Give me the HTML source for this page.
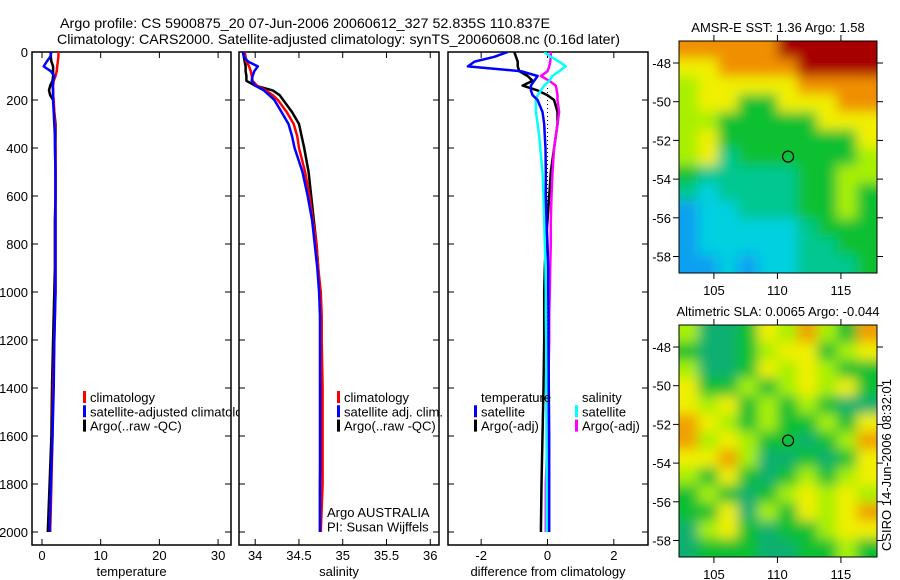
<!DOCTYPE html>
<html><head><meta charset="utf-8"><style>
html,body{margin:0;padding:0;background:#fff;}
svg{display:block;font-family:"Liberation Sans",sans-serif;}
</style></head><body>
<svg id="fig" width="900" height="580" viewBox="0 0 900 580">
<defs>
<clipPath id="c1"><rect x="32" y="52" width="207" height="493"/></clipPath>
<clipPath id="c2"><rect x="239" y="52" width="200" height="493"/></clipPath>
<clipPath id="c3"><rect x="448" y="52" width="200" height="493"/></clipPath>
<clipPath id="cm1"><rect x="679" y="41" width="198" height="232"/></clipPath>
<clipPath id="cm2"><rect x="679" y="325" width="198" height="232"/></clipPath>
<filter id="bl" filterUnits="userSpaceOnUse" x="600" y="0" width="300" height="580"><feGaussianBlur stdDeviation="6"/></filter>
</defs>
<text x="60" y="28" font-size="14" textLength="490" lengthAdjust="spacingAndGlyphs">Argo profile: CS 5900875_20 07-Jun-2006 20060612_327 52.835S 110.837E</text>
<text x="57" y="44" font-size="14" textLength="563" lengthAdjust="spacingAndGlyphs">Climatology: CARS2000. Satellite-adjusted climatology: synTS_20060608.nc (0.16d later)</text>
<g id="g1"></g>
<g id="g2"></g>
<g id="g3"></g>
<g id="m1"></g>
<g id="m2"></g>
<text transform="translate(891,465) rotate(-90)" text-anchor="middle" font-size="13">CSIRO 14-Jun-2006 08:32:01</text>
</svg>
<script>
const depths=[0,20,40,60,80,100,120,140,160,180,200,250,300,350,400,500,600,700,800,900,1000,1100,1200,1400,1600,1800,2000];
const tClim=[2.8,2.8,2.7,2.6,2.5,2.3,2.0,1.9,1.9,1.9,2.0,2.1,2.2,2.2,2.3,2.3,2.3,2.3,2.3,2.3,2.3,2.2,2.1,1.9,1.8,1.6,1.4];
const tSat=[1.6,1.4,0.8,0.3,1.5,2.1,1.9,1.8,1.9,1.9,1.9,2.0,2.1,2.2,2.2,2.3,2.3,2.3,2.3,2.3,2.3,2.2,2.1,2.0,1.8,1.5,1.3];
const tArgo=[1.5,1.5,1.6,1.9,1.9,1.9,1.8,1.4,1.2,1.4,1.9,2.1,2.3,2.3,2.3,2.3,2.3,2.2,2.2,2.2,2.1,2.0,1.9,1.7,1.6,1.3,1.0];
const sClim=[33.88,33.89,33.9,33.93,33.95,33.96,33.97,34.02,34.12,34.2,34.26,34.36,34.44,34.48,34.5,34.57,34.62,34.66,34.7,34.72,34.75,34.76,34.76,34.77,34.77,34.77,34.75];
const sSat=[33.87,33.87,33.92,34.03,33.99,33.97,33.96,34.0,34.1,34.16,34.22,34.3,34.38,34.42,34.45,34.54,34.6,34.65,34.68,34.71,34.73,34.74,34.74,34.74,34.74,34.74,34.74];
const sArgo=[33.86,33.87,33.88,33.89,33.89,33.9,33.9,34.0,34.2,34.28,34.32,34.42,34.5,34.53,34.56,34.61,34.64,34.67,34.7,34.72,34.74,34.75,34.75,34.75,34.75,34.74,34.74];
const dTSat=[-1.2,-1.6,-2.2,-2.4,-0.8,-0.3,-0.4,-0.5,-0.5,-0.45,-0.3,-0.15,-0.1,-0.08,-0.06,-0.05,-0.05,-0.03,0,0.02,0.02,0.03,0.03,0.04,0.05,0.05,0.05];
const dTArgo=[-1.0,-0.95,-0.9,-0.9,-0.85,-0.6,-0.45,-0.75,-0.3,0.0,0.2,0.3,0.3,0.25,0.2,0.1,0.05,0,-0.05,-0.08,-0.1,-0.1,-0.1,-0.12,-0.15,-0.18,-0.2];
const dSSat=[-0.1,0.1,0.35,0.55,0.35,0.15,0.05,-0.1,-0.2,-0.3,-0.35,-0.35,-0.3,-0.25,-0.22,-0.15,-0.12,-0.1,-0.08,-0.06,-0.05,-0.05,-0.04,-0.04,-0.03,-0.02,-0.02];
const dSArgo=[0.1,0.1,0.08,0.05,0,-0.2,0.05,0.25,0.28,0.3,0.3,0.35,0.3,0.25,0.2,0.15,0.12,0.1,0.1,0.08,0.07,0.05,0.05,0.02,0,-0.05,-0.05];
const depthTicks=[0,200,400,600,800,1000,1200,1400,1600,1800,2000];
const tTicks=[0,10,20,30];
const sTicks=[34,34.5,35,35.5,36];
const dTicks=[-2,0,2];
const latTicks=[-48,-50,-52,-54,-56,-58];
const lonTicks=[105,110,115];
const argoLon=110.837, argoLat=-52.835;
const sstGrid=["OOOOORRRRR","YYOOOORRRR","LYYYYYOOOO","LYYGGYYYOO","LLGGGGGYYY","LYGGGGGGGY","LYTGGGGGGL","GTTTTTGGLL","TCTTTTGGLG","BCCTTTGGLG","BCCCCCTGGG","BCCCCCTTGG","BBCBCCTTTG"];
const slaGrid=["LTTGYLOLGO","GTTGLYYGLY","LTTGYLYLGG","YGGLGLYLYG","YLYGLGLGTT","OYLGLGGLGY","OLYLGGTGLO","YYOLTTGTGY","LGYGTGLGLY","GLGTGLYLYL","GGYTLGYLYO","TLYGTGGLYY","TGGGTTGGLG"];
const NS='http://www.w3.org/2000/svg';
function mk(p,tag,a){const e=document.createElementNS(NS,tag);for(const k in a)e.setAttribute(k,a[k]);p.appendChild(e);return e;}
const yD=d=>52+d*0.24;
const panels=[
 {g:'g1',x0:32,x1:231,v0:-1.7,v1:32.2,ticks:tTicks,label:'temperature',clip:'c1'},
 {g:'g2',x0:239,x1:439,v0:33.815,v1:36.1,ticks:sTicks,label:'salinity',clip:'c2'},
 {g:'g3',x0:448,x1:648,v0:-3.0,v1:3.03,ticks:dTicks,label:'difference from climatology',clip:'c3'}];
panels.forEach((P,i)=>{
 const g=document.getElementById(P.g);
 P.sx=v=>P.x0+(v-P.v0)/(P.v1-P.v0)*(P.x1-P.x0);
 const fr=mk(g,'rect',{x:P.x0,y:52,width:P.x1-P.x0,height:493,fill:'none',stroke:'#000','stroke-width':1.5});
 
 
 depthTicks.forEach(d=>{
  mk(g,'line',{x1:P.x0,x2:P.x0+6,y1:yD(d),y2:yD(d),stroke:'#000'});
  mk(g,'line',{x1:P.x1-6,x2:P.x1,y1:yD(d),y2:yD(d),stroke:'#000'});
  if(i===0){const t=mk(g,'text',{x:28,y:yD(d)+5,'text-anchor':'end','font-size':13});t.textContent=d;
   
   }
 });
 P.ticks.forEach(v=>{
  const x=P.sx(v);
  mk(g,'line',{x1:x,x2:x,y1:539,y2:545,stroke:'#000'});
  mk(g,'line',{x1:x,x2:x,y1:52,y2:58,stroke:'#000'});
  const t=mk(g,'text',{x:x,y:560,'text-anchor':'middle','font-size':13});t.textContent=v;
  
  
 });
 const xl=mk(g,'text',{x:(P.x0+P.x1)/2,y:576,'text-anchor':'middle','font-size':13});xl.textContent=P.label;
 
 
});
function line(P,vals,col,name,w){
 const g=document.getElementById(P.g);
 const pts=vals.map((v,k)=>P.sx(v).toFixed(1)+','+yD(depths[k]).toFixed(1));
 const l=mk(g,'polyline',{points:pts.join(' '),fill:'none',stroke:col,'stroke-width':w||2.5,'stroke-linejoin':'round','clip-path':'url(#'+P.clip+')'});
 
 
}
const [P1,P2,P3]=panels;
{const g=document.getElementById('g3');const z=mk(g,'line',{x1:P3.sx(0),x2:P3.sx(0),y1:yD(150),y2:yD(2000),stroke:'#000','stroke-dasharray':'1,3'});
 }
line(P1,tArgo,'#000','temp-argo-line');line(P1,tClim,'#f00','temp-climatology-line');line(P1,tSat,'#00f','temp-satellite-line');
line(P2,sArgo,'#000','sal-argo-line');line(P2,sClim,'#f00','sal-climatology-line');line(P2,sSat,'#00f','sal-satellite-line');
line(P3,dTArgo,'#000','diff-temp-argo-line');line(P3,dSArgo,'#f0f','diff-sal-argo-line');line(P3,dSSat,'#0ff','diff-sal-satellite-line');line(P3,dTSat,'#00f','diff-temp-satellite-line');
function legend(gid,x,y,items,clip){
 const g=document.getElementById(gid);
 items.forEach((it,k)=>{
  const yy=y+k*14.3;
  if(it[1]){const m=mk(g,'rect',{x:x,y:yy-6,width:3,height:12,fill:it[1]});
   }
  const t=mk(g,'text',{x:x+7,y:yy+5,'font-size':13});if(clip)t.setAttribute('clip-path','url(#'+clip+')');t.textContent=it[0];
  
 });
}
legend('g1',83,397,[['climatology','#f00'],['satellite-adjusted climatology','#00f'],['Argo(..raw -QC)','#000']],'c1');
legend('g2',337,397,[['climatology','#f00'],['satellite adj. clim.','#00f'],['Argo(..raw -QC)','#000']]);
legend('g2',320,512,[['Argo AUSTRALIA',null],['PI: Susan Wijffels',null]]);
legend('g3',474,397,[['temperature',null],['satellite','#00f'],['Argo(-adj)','#000']]);
legend('g3',575,397,[['salinity',null],['satellite','#0ff'],['Argo(-adj)','#f0f']]);
const COL={R:'#a80000',O:'#f09000',Y:'#f0f000',L:'#a8f000',G:'#10c030',T:'#00c890',C:'#00d0e0',B:'#10a0f0'};
const COL2={Y:'#f0f000',L:'#a8f000',G:'#10c030',T:'#10b070',O:'#f0a000'};
function map(gid,y0,grid,cols,title,clip){
 const g=document.getElementById(gid);
 const lon=v=>679+(v-102.25)*12.7, lat=v=>y0+22+(-48-v)*19.35;
 const tt=mk(g,'text',{x:778,y:y0-9,'text-anchor':'middle','font-size':13});tt.textContent=title;
 
 const inner=mk(g,'g',{'clip-path':'url(#'+clip+')'});
 const bgl=mk(inner,'g',{filter:'url(#bl)'});
 const cw=198/10, ch=232/13;
 grid.forEach((row,r)=>{[...row].forEach((c,k)=>{
  const x0=k===0?660:679+k*cw, x1=k===9?900:679+(k+1)*cw;
  const ya=r===0?y0-20:y0+r*ch, yb=r===12?y0+260:y0+(r+1)*ch;
  mk(bgl,'rect',{x:x0-0.5,y:ya-0.5,width:x1-x0+1,height:yb-ya+1,fill:cols[c]});
 });});
 const fr=mk(g,'rect',{x:679,y:y0,width:198,height:232,fill:'none',stroke:'#000'});
 
 latTicks.forEach(v=>{const y=lat(v);
  mk(g,'line',{x1:673,x2:679,y1:y,y2:y,stroke:'#000'});mk(g,'line',{x1:877,x2:883,y1:y,y2:y,stroke:'#000'});
  const t=mk(g,'text',{x:671,y:y+5,'text-anchor':'end','font-size':13});t.textContent=v;
  });
 lonTicks.forEach(v=>{const x=lon(v);
  mk(g,'line',{x1:x,x2:x,y1:y0-6,y2:y0,stroke:'#000'});mk(g,'line',{x1:x,x2:x,y1:y0+232,y2:y0+238,stroke:'#000'});
  const t=mk(g,'text',{x:x,y:y0+254,'text-anchor':'middle','font-size':13});t.textContent=v;
  });
 const c=mk(g,'circle',{cx:lon(argoLon),cy:lat(argoLat),r:5.5,fill:'none',stroke:'#000','stroke-width':1.2});
 
}
map('m1',41,sstGrid,COL,'AMSR-E SST: 1.36 Argo: 1.58','cm1');
map('m2',325,slaGrid,COL2,'Altimetric SLA: 0.0065 Argo: -0.044','cm2');
</script>
</body></html>
